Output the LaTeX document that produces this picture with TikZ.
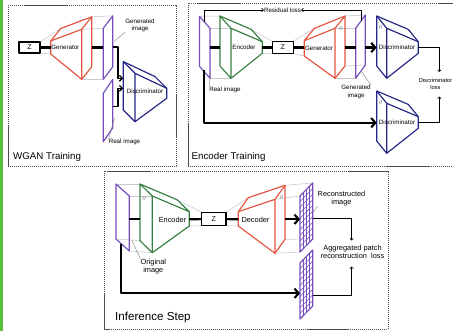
\documentclass[tikz,border=0pt]{standalone}
\usepackage{fontspec}
\setmainfont{Liberation Sans}
\usetikzlibrary{arrows.meta}

\definecolor{gruen}{RGB}{88,190,62}
\definecolor{gen}{RGB}{228,84,62}
\definecolor{enc}{RGB}{56,128,64}
\definecolor{disk}{RGB}{38,38,135}
\definecolor{bildf}{RGB}{118,78,188}
\definecolor{hellgrau}{RGB}{200,200,212}

\def\pkt#1#2{({#1},{#2})}
% kleine Seite (x, oben, unten), grosse Seite (x, oben, unten), Tiefe (dx, dy)
\def\stumpf#1#2#3#4#5#6#7#8#9{
	\draw[#1] \pkt{#2}{#3} -- \pkt{#5}{#6} -- \pkt{#5}{#7} -- \pkt{#2}{#4} -- cycle;
	\draw[#1] \pkt{#2}{#3} -- \pkt{(#2)+(#8)}{(#3)+(#9)}
		-- \pkt{(#5)+(#8)}{(#6)+(#9)} -- \pkt{(#5)+(#8)}{(#7)+(#9)} -- \pkt{#5}{#7};
	\draw[#1] \pkt{#5}{#6} -- \pkt{(#5)+(#8)}{(#6)+(#9)};
}
\def\bild#1#2#3#4#5{
	\draw[bildlinie] \pkt{#1}{#2} -- \pkt{#1}{#3}
		-- \pkt{(#1)+(#4)}{(#3)+(#5)} -- \pkt{(#1)+(#4)}{(#2)+(#5)} -- cycle;
}
\def\gitter#1#2#3#4#5{
	\foreach \nr in {1,2,3}{
		\draw[bildlinie,line width=0.45pt] \pkt{(#1)+\nr*(#4)/4}{(#2)+\nr*(#5)/4}
			-- \pkt{(#1)+\nr*(#4)/4}{(#3)+\nr*(#5)/4};
	}
	\foreach \nr in {1,...,9}{
		\draw[bildlinie,line width=0.45pt] \pkt{#1}{(#2)+\nr*((#3)-(#2))/10}
			-- \pkt{(#1)+(#4)}{(#2)+(#5)+\nr*((#3)-(#2))/10};
	}
	\bild{#1}{#2}{#3}{#4}{#5}
}

\begin{document}
\begin{tikzpicture}[x=0.03cm, y=-0.03cm, line join=round,
	rahmen/.style={gray!60!black, line width=0.5pt, dash pattern=on 1pt off 0.7pt},
	genlinie/.style={gen, line width=1pt},
	enclinie/.style={enc, line width=1pt},
	disklinie/.style={disk, line width=1pt},
	bildlinie/.style={bildf, line width=1pt},
	hell/.style={hellgrau, line width=0.5pt},
	dick/.style={line width=1.8pt},
	pfeil/.style={dick, -{Straight Barb[length=3.5pt,width=8pt]}},
	kpfeil/.style={line width=1.2pt, -{Straight Barb[length=2.5pt,width=5pt]}},
	verlust/.style={line width=0.5pt, -{Straight Barb[length=1.5pt,width=3pt]}},
	hinweis/.style={gray, line width=0.35pt},
	zbox/.style={draw, line width=1pt, inner sep=0pt, font=\fontsize{6}{7}\selectfont},
	beschr/.style={inner sep=0pt, align=center, font=\fontsize{5.3}{6.2}\selectfont},
	beschrgr/.style={inner sep=0pt, align=center, font=\fontsize{6.3}{7.3}\selectfont},
	winkel/.style={inner sep=0pt, gray, font=\fontsize{4}{4}\selectfont},
	titel/.style={inner sep=0pt, anchor=base west, font=\fontsize{8.3}{9}\selectfont}]
\useasboundingbox (0,0) rectangle (453,331);
\fill[gruen] (0,0) rectangle (3.3,331);

% Rahmen
\draw[rahmen] (8,5) rectangle (176,166);
\draw[rahmen] (188,3) rectangle (470,166);
\draw[rahmen] (104,171) rectangle (388,329);
\node[titel] (twgan) at (13,159.5) {WGAN Training};
\node[titel] (tenc) at (191.5,159.5) {Encoder Training};
\node[titel, font=\fontsize{9.9}{11}\selectfont] (tinf) at (115,320.5) {Inference Step};

%%% WGAN Training
\draw[hell] (40,42) -- (60.7,28.5);
\draw[hell] (40,53) -- (50.7,54);
\draw[hell] (91.7,16.8) -- (112.8,15.8);
\draw[hell] (81.7,29.3) -- (103.3,28.3);
\draw[hell] (81.7,79.3) -- (103.3,79.3);
\stumpf{genlinie}{50.7}{41}{54}{81.7}{29.3}{79.3}{10}{-12.5}
\bild{103.3}{28.3}{79.3}{9.5}{-12.5}
\bild{103.3}{93.3}{141.7}{9.5}{-14}
\stumpf{disklinie}{166.7}{88.3}{98.3}{135}{73.3}{121.7}{-11.7}{-11.7}

\node[zbox, minimum width=0.63cm, minimum height=0.33cm] (wz) at (29.5,47.5) {Z};
\coordinate (wgk) at (50.7,47.5);
\coordinate (wgg) at (91.7,47.5);
\coordinate (wbv) at (103.3,47.5);
\coordinate (wbh) at (112.8,47);
\coordinate (wrh) at (112.8,106.7);
\coordinate (wd1) at (123.3,78.3);
\coordinate (wd2) at (123.3,88.3);
\draw[dick] (wz) -- (wgk);
\draw[dick] (wgg) -- (wbv);
\draw[kpfeil] (wbh) -- ++(5,0) |- (wd1);
\draw[kpfeil] (wrh) -- ++(5,0) |- (wd2);

\node[beschr] (wgen) at (65.3,47.7) {Generator};
\node[beschr] (wdis) at (145,91.3) {Discriminator};
\node[beschr] (wgb) at (140,25.5) {Generated\\image};
\node[beschr] (wrb) at (124.5,142.3) {Real image};
\coordinate (wgbz) at (114.5,41);
\coordinate (wrbz) at (114.5,118);
\draw[hinweis] (wgbz) -- (wgb.south west);
\draw[hinweis] (wrbz) -- (wrb.north west);

%%% Encoder Training
\draw[hell] (199.5,16.3) -- (220,16);
\draw[hell] (210,28.3) -- (231,28.3);
\draw[hell] (210,78.3) -- (231,78.3);
\draw[hell] (251.3,29.4) -- (272.3,41.2);
\draw[hell] (262.3,53.3) -- (272.3,53.8);
\draw[hell] (293.3,41.2) -- (314.3,28.4);
\draw[hell] (293.3,53.8) -- (304.3,56);
\draw[hell] (345,16) -- (365.3,15);
\draw[hell] (335,28.3) -- (355.7,28.3);
\draw[hell] (335,78.3) -- (355.7,78.3);
\draw[hell] (345,66) -- (365.3,65);
\bild{210}{28.3}{78.3}{-10.5}{-12}
\stumpf{enclinie}{262.3}{41.7}{53.3}{231}{28.3}{78.3}{-11}{-12.3}
\stumpf{genlinie}{304.3}{40.7}{56}{335}{28.3}{78.3}{10}{-12.3}
\bild{355.7}{28.3}{78.3}{9.6}{-13.3}
\stumpf{disklinie}{418.3}{41.7}{53.3}{386.7}{28.3}{78.3}{-10}{-12.3}
\stumpf{disklinie}{418.3}{116.7}{128.3}{386.7}{103.3}{153.3}{-10}{-12.3}

\node[zbox, minimum width=0.63cm, minimum height=0.37cm] (ez) at (282.8,47.5) {Z};
\coordinate (erv) at (210,47.5);
\coordinate (eeh) at (220,47.5);
\coordinate (eek) at (262.3,47.5);
\coordinate (egk) at (304.3,47.5);
\coordinate (egg) at (345,47.5);
\coordinate (ebv) at (355.7,47.5);
\coordinate (ebh) at (365.3,47.5);
\coordinate (ed1) at (376.7,47.5);
\coordinate (ed2) at (376.7,122.7);
\coordinate (eru) at (204.3,70);
\draw[dick] (erv) -- (eeh);
\draw[dick] (eek) -- (ez);
\draw[dick] (ez) -- (egk);
\draw[dick] (egg) -- (ebv);
\draw[pfeil] (ebh) -- (ed1);
\draw[pfeil] (eru) |- (ed2);

% Residual loss
\node[beschr] (rl) at (282.5,10) {Residual loss};
\coordinate (ero) at (204.3,21.8);
\coordinate (ego) at (361,21);
\draw[verlust] (ero) |- (rl.west);
\draw[verlust] (ego) |- (rl.east);

% Discriminator loss
\node[beschr, font=\fontsize{4.9}{5.9}\selectfont] (dl) at (435.5,83.5) {Discriminator\\loss};
\coordinate (ed1k) at (418.3,47.5);
\coordinate (ed2k) at (418.3,122.5);
\coordinate (dlo) at (439.3,72);
\coordinate (dlu) at (439.3,96.5);
\draw[verlust] (ed1k) -| (dlo);
\draw[verlust] (ed2k) -| (dlu);

\node[beschr] (eenc) at (244,47.5) {Encoder};
\node[beschr] (egen) at (319,48) {Generator};
\node[beschr] (edis1) at (397,47.5) {Discriminator};
\node[beschr] (edis2) at (397,122.5) {Discriminator};
\node[beschr] (erb) at (225,90) {Real image};
\node[beschr] (egb) at (356,92) {Generated\\image};
\coordinate (erbz) at (211,68.3);
\coordinate (egbz) at (361.7,71.7);
\draw[hinweis] (erbz) -- (erb.north west);
\draw[hinweis] (egbz) -- (egb.north east);
\node[winkel] (eth1) at (341,28.5) {$\theta$};
\node[winkel] (eth2) at (380.7,27) {$\theta$};
\node[winkel] (eth3) at (380.7,102) {$\theta$};

%%% Inference Step
\draw[hell] (116,184) -- (140,184);
\draw[hell] (129.3,196) -- (152.3,196);
\draw[hell] (116,239) -- (140,240.7);
\draw[hell] (129.3,251) -- (152.3,252.7);
\draw[hell] (177,199.7) -- (201.7,212.3);
\draw[hell] (189.3,226) -- (201.7,225.7);
\draw[hell] (226,212.3) -- (248.3,197.7);
\draw[hell] (226,225.7) -- (238.3,226);
\draw[hell] (285,185.3) -- (312.7,183);
\draw[hell] (275,199.3) -- (300,196);
\draw[hell] (275,253.3) -- (300,252);
\draw[hell] (285,239.3) -- (312.7,239);
\bild{129.3}{196}{251}{-13.3}{-12}
\stumpf{enclinie}{189.3}{211.7}{226}{152.3}{196}{252.7}{-12.3}{-12}
\stumpf{genlinie}{238.3}{211.7}{226}{275}{199.3}{253.3}{10}{-14}
\gitter{300}{196}{252}{12.7}{-13}
\gitter{300}{263}{319}{12.7}{-13}

\node[zbox, minimum width=0.73cm, minimum height=0.4cm] (iz) at (213.8,219) {Z};
\coordinate (iov) at (129.3,219.3);
\coordinate (ieh) at (140,219.3);
\coordinate (iek) at (189.3,219.3);
\coordinate (idk) at (238.3,219.3);
\coordinate (idg) at (285,219.3);
\coordinate (ig1) at (300,219.3);
\coordinate (ig2) at (300,293.3);
\coordinate (iou) at (120.7,244);
\draw[dick] (iov) -- (ieh);
\draw[dick] (iek) -- (iz);
\draw[dick] (iz) -- (idk);
\draw[pfeil] (idg) -- (ig1);
\draw[pfeil] (iou) |- (ig2);

% Aggregated loss
\node[beschrgr] (al) at (352.5,252) {Aggregated patch\\reconstruction\ \ loss};
\coordinate (ig1h) at (312.7,218.3);
\coordinate (ig2h) at (312.7,295);
\coordinate (alo) at (351.7,240.5);
\coordinate (alu) at (351.7,266.5);
\draw[verlust] (ig1h) -| (alo);
\draw[verlust] (ig2h) -| (alu);

\node[beschrgr] (ienc) at (172.5,220) {Encoder};
\node[beschrgr] (idec) at (255.5,220) {Decoder};
\node[beschrgr] (iob) at (153.3,266.7) {Original\\image};
\node[beschrgr] (irb) at (341.5,198.5) {Reconstructed\\image};
\coordinate (iobz) at (131.7,240);
\coordinate (irbz) at (313.3,211.7);
\draw[hinweis] (iobz) -- (iob.north west);
\draw[hinweis] (irbz) -- (irb.south west);
\node[winkel] (ith1) at (144.3,198) {$\theta$};
\node[winkel] (ith2) at (281.7,197.5) {$\theta$};
\end{tikzpicture}
\end{document}
